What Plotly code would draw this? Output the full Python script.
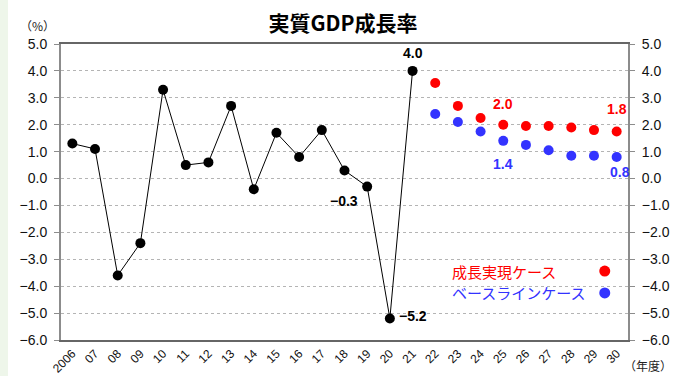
import plotly.graph_objects as go

years = ["2006", "07", "08", "09", "10", "11", "12", "13", "14", "15", "16", "17", "18",
         "19", "20", "21", "22", "23", "24", "25", "26", "27", "28", "29", "30"]
actual_years = years[:16]
actual = [1.3, 1.1, -3.6, -2.4, 3.3, 0.5, 0.6, 2.7, -0.4, 1.7, 0.8, 1.8, 0.3, -0.3, -5.2, 4.0]
proj_years = years[16:]
growth_case = [3.55, 2.7, 2.25, 2.0, 1.95, 1.95, 1.9, 1.8, 1.75]
baseline_case = [2.4, 2.1, 1.75, 1.4, 1.25, 1.05, 0.85, 0.85, 0.8]
yticks = [5, 4, 3, 2, 1, 0, -1, -2, -3, -4, -5, -6]

title = "実質GDP成長率"
growth_name = "成長実現ケース"
base_name = "ベースラインケース"

RED = "#FF0000"
BLUE = "#3333FF"
FONT = "Arial, 'Liberation Sans', 'Noto Sans CJK JP', sans-serif"
JFONT = "'Noto Sans CJK JP', sans-serif"

idx = {y: i for i, y in enumerate(years)}
xa = [idx[y] for y in actual_years]
xp = [idx[y] for y in proj_years]

def fmt(v):
    s = f"{v:.1f}"
    return s.replace("-", "\u2212")

fig = go.Figure()
fig.add_trace(go.Scatter(x=xa, y=actual, mode="lines+markers",
                         line=dict(color="black", width=1),
                         marker=dict(color="black", size=10), showlegend=False))
fig.add_trace(go.Scatter(x=xp, y=growth_case, mode="markers",
                         marker=dict(color=RED, size=10), showlegend=False))
fig.add_trace(go.Scatter(x=xp, y=baseline_case, mode="markers",
                         marker=dict(color=BLUE, size=10), showlegend=False))
# invisible trace for right axis
fig.add_trace(go.Scatter(x=[xa[0]], y=[actual[0]], yaxis="y2", mode="markers",
                         marker=dict(opacity=0), showlegend=False, hoverinfo="skip"))

ann = []
def lab(x, y, text, color, xshift=0, yshift=0, xanchor="center"):
    ann.append(dict(x=x, y=y, xref="x", yref="y", text=f"<b>{text}</b>", showarrow=False,
                    font=dict(family=FONT, size=14, color=color),
                    xshift=xshift, yshift=yshift, xanchor=xanchor, yanchor="middle"))

i21 = actual_years.index("21")
i19 = actual_years.index("19")
i20 = actual_years.index("20")
lab(xa[i21], actual[i21], fmt(actual[i21]), "black", yshift=18)
lab(xa[i19], actual[i19], fmt(actual[i19]), "black", xshift=-7, yshift=-14, xanchor="right")
lab(xa[i20], actual[i20], fmt(actual[i20]), "black", xshift=7, yshift=2, xanchor="left")
j25 = proj_years.index("25")
j30 = proj_years.index("30")
lab(xp[j25], growth_case[j25], "2.0", RED, yshift=21)
lab(xp[j25], baseline_case[j25], fmt(baseline_case[j25]), BLUE, yshift=-23)
lab(xp[j30], growth_case[j30], "1.8", RED, yshift=22)
lab(xp[j30], baseline_case[j30], fmt(baseline_case[j30]), BLUE, xshift=3, yshift=-15)

ann.append(dict(x=-0.042, y=1.061, xref="paper", yref="paper", text="（%）", showarrow=False,
                font=dict(family=JFONT, size=12, color="#222"), xanchor="center", yanchor="middle"))
ann.append(dict(x=1.035, y=-0.086, xref="paper", yref="paper", text="（年度）", showarrow=False,
                font=dict(family=JFONT, size=12, color="#222"), xanchor="center", yanchor="middle"))
ann.append(dict(x=0.686, y=0.233, xref="paper", yref="paper", text=growth_name, showarrow=False,
                font=dict(family=JFONT, size=15, color=RED), xanchor="left", yanchor="middle"))
ann.append(dict(x=0.686, y=0.159, xref="paper", yref="paper", text=base_name, showarrow=False,
                font=dict(family=JFONT, size=15, color=BLUE), xanchor="left", yanchor="middle"))

shapes = [
    dict(type="rect", xref="paper", yref="paper", x0=-61/567, x1=-53/567, y0=-36/296, y1=1+44/296,
         fillcolor="#EEF6EA", line=dict(width=0), layer="below"),
    dict(type="circle", xref="paper", yref="paper", xsizemode="pixel", ysizemode="pixel",
         xanchor=0.959, yanchor=0.233, x0=-5.5, x1=5.5, y0=-5.5, y1=5.5,
         fillcolor=RED, line=dict(width=0)),
    dict(type="circle", xref="paper", yref="paper", xsizemode="pixel", ysizemode="pixel",
         xanchor=0.959, yanchor=0.159, x0=-5.5, x1=5.5, y0=-5.5, y1=5.5,
         fillcolor=BLUE, line=dict(width=0)),
]

yax = dict(range=[-6, 5], tickvals=yticks, ticktext=[fmt(v) for v in yticks],
           showgrid=True, gridcolor="#b4b4b4", griddash="dot", gridwidth=1,
           zeroline=False, showline=True, linecolor="#8c8c8c", linewidth=2,
           ticks="outside", ticklen=5, tickcolor="#8c8c8c", automargin=False,
           ticklabelstandoff=4,
           tickfont=dict(family=FONT, size=14, color="#111"), fixedrange=True)

fig.update_layout(
    width=686, height=376, margin=dict(l=61, r=58, t=44, b=36),
    paper_bgcolor="white", plot_bgcolor="white",
    title=dict(text=f"<b>{title}</b>", x=0.5, xref="container", y=1-24/376, yref="container",
               xanchor="center", yanchor="middle",
               font=dict(family=JFONT, size=21, color="black")),
    xaxis=dict(range=[-0.5, len(years)-0.5], tickvals=list(range(len(years))), ticktext=years,
               tickangle=-45, ticks="", showgrid=False, zeroline=False, automargin=False,
               showline=True, mirror=True, linecolor="#666", linewidth=2,
               tickfont=dict(family=FONT, size=12, color="#111"), fixedrange=True),
    xaxis2=dict(range=[-0.5, len(years)-0.5], tickvals=list(range(len(years))), overlaying="x",
                anchor="free", position=6/11, side="bottom", showticklabels=False,
                ticks="inside", ticklen=4, tickcolor="#555", showgrid=False, zeroline=False,
                showline=True, linecolor="#555", linewidth=2, fixedrange=True, automargin=False),
    yaxis=yax,
    yaxis2=dict(yax, overlaying="y", side="right", showgrid=False),
    annotations=ann, shapes=shapes, showlegend=False,
)
fig.write_html("out.html")
